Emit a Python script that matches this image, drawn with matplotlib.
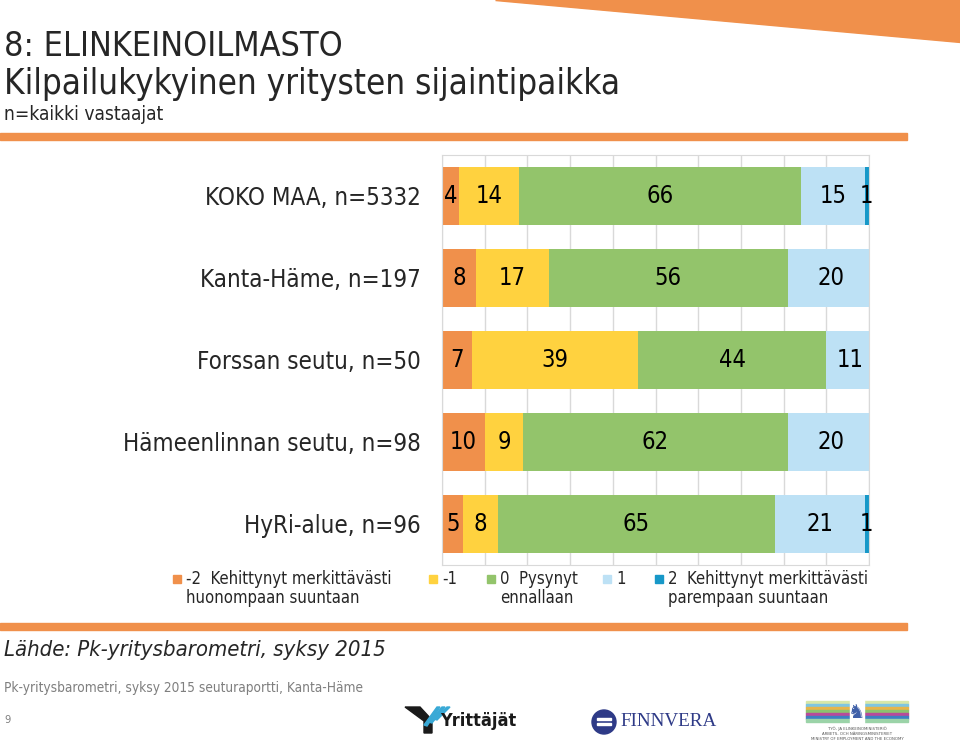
import matplotlib.pyplot as plt
from matplotlib.patches import Rectangle, Polygon, Ellipse

W, H = 960, 744

alueet = ["KOKO MAA, n=5332", "Kanta-Häme, n=197", "Forssan seutu, n=50",
          "Hämeenlinnan seutu, n=98", "HyRi-alue, n=96"]
miinus2 = [4, 8, 7, 10, 5]
miinus1 = [14, 17, 39, 9, 8]
nolla = [66, 56, 44, 62, 65]
plus1 = [15, 20, 11, 20, 21]
plus2 = [1, 0, 0, 0, 1]

sarjat = [miinus2, miinus1, nolla, plus1, plus2]
varit = ["#F0904B", "#FFD23F", "#93C46B", "#BDE1F5", "#1798C8"]
selitteet = ["-2  Kehittynyt merkittävästi\nhuonompaan suuntaan", "-1",
             "0  Pysynyt\nennallaan", "1",
             "2  Kehittynyt merkittävästi\nparempaan suuntaan"]

ORANSSI = "#F0904B"
TUMMA = "#262626"
KAPEA = dict(family="DejaVu Sans", fontstretch="condensed")


def fx(px):
    return px / W


def fy(py):
    return 1 - py / H


fig = plt.figure(figsize=(9.6, 7.44), dpi=100)

# koristeet
fig.patches.append(Polygon([(fx(495), fy(0)), (fx(960), fy(0)), (fx(960), fy(42))],
                           closed=True, transform=fig.transFigure, color=ORANSSI))
fig.patches.append(Rectangle((0, fy(140)), fx(907), 7 / H, transform=fig.transFigure, color=ORANSSI))
fig.patches.append(Rectangle((0, fy(630)), fx(907), 7 / H, transform=fig.transFigure, color=ORANSSI))

# otsikot
fig.text(fx(4), fy(46), "8: ELINKEINOILMASTO", fontsize=24.5, color=TUMMA, va="center", **KAPEA)
fig.text(fx(4), fy(84), "Kilpailukykyinen yritysten sijaintipaikka", fontsize=25, color=TUMMA,
         va="center", **KAPEA)
fig.text(fx(4), fy(114), "n=kaikki vastaajat", fontsize=13.8, color=TUMMA, va="center", **KAPEA)

# kaavio
ax = fig.add_axes([fx(442), fy(565), fx(869) - fx(442), (565 - 155) / H])
y = list(range(len(alueet)))
vasen = [0] * len(alueet)
for arvot, vari in zip(sarjat, varit):
    bars = ax.barh(y, arvot, left=vasen, height=0.71, color=vari, zorder=2)
    for b, v in zip(bars, arvot):
        if v > 0:
            ax.text(b.get_x() + b.get_width() / 2, b.get_y() + b.get_height() / 2, str(v),
                    ha="center", va="center", fontsize=17, color="black", zorder=3, **KAPEA)
    vasen = [a + b for a, b in zip(vasen, arvot)]

ax.set_xlim(0, 100)
ax.set_ylim(len(alueet) - 0.5, -0.5)
ax.set_xticks(range(0, 101, 10))
ax.set_yticks(y)
ax.set_yticklabels(alueet, fontsize=17.3, color=TUMMA, **KAPEA)
ax.tick_params(axis="y", length=0, pad=15.5)
ax.tick_params(axis="x", length=0, labelbottom=False)
ax.grid(axis="x", color="#D9D9D9", linewidth=1, zorder=0)
for s in ax.spines.values():
    s.set_color("#D9D9D9")

# selite
sel_x = [173, 429, 487, 603, 655]
for sx, vari, teksti in zip(sel_x, varit, selitteet):
    fig.patches.append(Rectangle((fx(sx), fy(583)), 8 / W, 8 / H, transform=fig.transFigure, color=vari))
    fig.text(fx(sx + 13), fy(570), teksti, fontsize=12, color=TUMMA, va="top", linespacing=1.1, **KAPEA)

# alatunniste
fig.text(fx(4), fy(650), "Lähde: Pk-yritysbarometri, syksy 2015", fontsize=15.8, style="italic",
         color=TUMMA, va="center", **KAPEA)
fig.text(fx(4), fy(688), "Pk-yritysbarometri, syksy 2015 seuturaportti, Kanta-Häme", fontsize=9.8,
         color="#7F7F7F", va="center", **KAPEA)
fig.text(fx(4), fy(720), "9", fontsize=8, color="#7F7F7F", va="center", **KAPEA)

# logot
fig.patches.append(Polygon([(fx(405), fy(707)), (fx(420), fy(707)), (fx(432), fy(720)),
                            (fx(432), fy(733)), (fx(424), fy(733)), (fx(424), fy(721))],
                           closed=True, transform=fig.transFigure, color="#1a1a1a"))
for k in range(3):
    fig.patches.append(Polygon([(fx(424 + 5 * k), fy(725 - 3 * k)), (fx(437 + 5 * k), fy(707)),
                                (fx(440 + 5 * k), fy(707)), (fx(427 + 5 * k), fy(726 - 3 * k))],
                               closed=True, transform=fig.transFigure, color="#39A9D6"))
fig.text(fx(440), fy(721), "Yrittäjät", fontsize=13, fontweight="bold", color="#1a1a1a", va="center", **KAPEA)
fig.patches.append(Ellipse((fx(604), fy(722)), 24 / W, 24 / H, transform=fig.transFigure, color="#2E3A87"))
for k in range(2):
    fig.patches.append(Rectangle((fx(597), fy(720 + 5 * k)), 14 / W, 2 / H, transform=fig.transFigure,
                                 color="white"))
fig.text(fx(620), fy(722), "FINNVERA", fontsize=13.8, family="Liberation Serif", color="#2E3A87", va="center")
mstripes = ["#D8E7A8", "#7FC6E0", "#E6B54A", "#8DC26E", "#B84B9A", "#3E7FC1", "#9BD3A8"]
for i, c in enumerate(mstripes):
    fig.patches.append(Rectangle((fx(806), fy(701 + i * 3 + 3)), 102 / W, 3 / H,
                                 transform=fig.transFigure, color=c))
fig.patches.append(Rectangle((fx(850), fy(724)), 14 / W, 24 / H, transform=fig.transFigure, color="white"))
fig.text(fx(857), fy(712), "♞", fontsize=14, color="#3E5FA8", ha="center", va="center")
for i, t in enumerate(["TYÖ- JA ELINKEINOMINISTERIÖ", "ARBETS- OCH NÄRINGSMINISTERIET",
                       "MINISTRY OF EMPLOYMENT AND THE ECONOMY"]):
    fig.text(fx(857), fy(729 + i * 5), t, fontsize=2.8, color="#555555", ha="center", va="center")

fig.savefig("out.png", dpi=100)
